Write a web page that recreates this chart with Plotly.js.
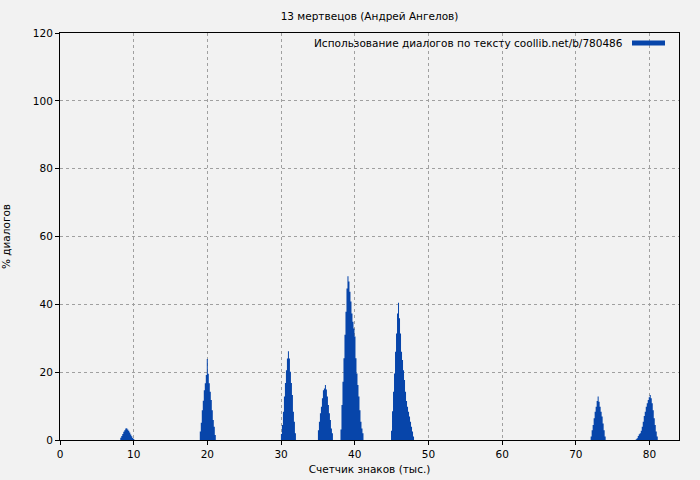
<!DOCTYPE html>
<html>
<head>
<meta charset="utf-8">
<script src="https://cdn.plot.ly/plotly-3.0.1.min.js"></script>
<style>html,body{margin:0;padding:0;background:#f2f2f2;}#chart{width:700px;height:480px;}</style>
</head>
<body>
<div id="chart"></div>
<script>
// Data: % of dialogue per text position (thousands of characters)
const STEP = 0.1358; // sampling step, thousand chars
const peakStarts = [8.18, 18.97, 29.98, 35.0, 38.06, 44.92, 72.01, 78.13];
const peak9  = [0.7, 1.2, 1.8, 2.4, 2.9, 3.4, 3.5, 3.1, 2.7, 2.2, 1.6, 1.1, 0.6, 0.3];
const peak20 = [2.5, 5.1, 8.8, 11.6, 14.7, 16.7, 19.2, 23.9, 19.5, 16.7, 14.2, 11.8, 8.8, 5.9, 3.9, 1.5];
const peak31 = [1.8, 4.4, 8.3, 12.8, 16.8, 20.6, 24.0, 26.2, 24.0, 20.1, 16.8, 13.3, 8.3, 5.4, 2.0];
const peak36 = [2.9, 5.4, 7.9, 9.8, 12.3, 14.7, 15.2, 16.2, 14.9, 12.8, 10.3, 7.9, 5.9, 3.4, 2.0];
const peak39 = [3.1, 10.3, 17.2, 24.1, 31.0, 37.8, 44.7, 48.3, 46.7, 43.7, 40.8, 37.3, 34.9, 32.9, 30.5, 24.1, 19.6, 16.2, 12.8, 8.8, 5.4, 3.4, 2.0];
const peak46 = [2.7, 8.5, 14.2, 19.6, 26.0, 31.4, 37.3, 40.5, 35.9, 31.4, 26.0, 23.6, 20.6, 17.7, 14.2, 11.5, 9.8, 8.3, 6.9, 5.4, 3.9, 2.5, 1.0];
const peak73 = [1.0, 2.9, 4.4, 6.4, 8.3, 9.8, 11.5, 12.8, 11.3, 9.8, 8.3, 6.9, 4.9, 2.9, 1.0];
const peak80 = [0.2, 0.5, 1.2, 1.7, 2.0, 2.7, 3.9, 5.4, 7.1, 8.3, 9.8, 10.8, 11.8, 12.6, 13.3, 12.3, 10.8, 8.8, 6.4, 4.4, 2.5, 1.0];
const peaks = [peak9, peak20, peak31, peak36, peak39, peak46, peak73, peak80];

const xTicks = [0, 10, 20, 30, 40, 50, 60, 70, 80];
const yTicks = [0, 20, 40, 60, 80, 100, 120];

const titleText = '13 мертвецов (Андрей Ангелов)';
const legendText = 'Использование диалогов по тексту coollib.net/b/780486';
const xTitle = 'Счетчик знаков (тыс.)';
const yTitle = '% диалогов';

const BLUE = '#0745aa';
const FONT = 'DejaVu Sans';
const FS = 10.5;

const traces = peaks.map((vals, k) => {
  const xs = vals.map((v, i) => peakStarts[k] + i * STEP);
  const ys = vals.slice();
  xs.push(peakStarts[k] + vals.length * STEP);
  ys.push(0);
  return {
    type: 'scatter', mode: 'lines', x: xs, y: ys,
    line: {shape: 'hv', width: 0, color: BLUE},
    fill: 'tozeroy', fillcolor: BLUE,
    showlegend: false, hoverinfo: 'skip'
  };
});

const axisCommon = {
  showline: true, linecolor: '#000', linewidth: 1, mirror: true,
  ticks: 'outside', ticklen: 4, tickcolor: '#000', tickwidth: 1,
  showgrid: true, gridcolor: '#a0a0a0', griddash: '3px,3px', gridwidth: 1,
  zeroline: false, tickfont: {family: FONT, size: FS, color: '#000'}
};

const layout = {
  width: 700, height: 480,
  paper_bgcolor: '#f2f2f2', plot_bgcolor: '#f2f2f2',
  margin: {l: 60, r: 21, t: 33, b: 40},
  showlegend: false,
  font: {family: FONT, size: FS, color: '#000'},
  title: {text: titleText, font: {family: FONT, size: FS, color: '#000'},
          x: 0.5, xref: 'paper', y: 1 - 16/480, yref: 'container', yanchor: 'middle'},
  xaxis: Object.assign({}, axisCommon, {
    range: [0, 84], tickvals: xTicks, ticktext: xTicks.map(String),
    title: {text: xTitle, font: {family: FONT, size: FS, color: '#000'}, standoff: 7}
  }),
  yaxis: Object.assign({}, axisCommon, {
    range: [0, 120], tickvals: yTicks, ticktext: yTicks.map(String),
    title: {text: yTitle, font: {family: FONT, size: FS, color: '#000'}, standoff: 20}
  }),
  annotations: [{
    text: legendText, xref: 'paper', yref: 'paper', x: (625 - 60) / 619, y: (440 - 43) / 407,
    xanchor: 'right', yanchor: 'middle', showarrow: false,
    font: {family: FONT, size: FS, color: '#000'}
  }],
  shapes: [{
    type: 'line', xref: 'paper', yref: 'paper',
    x0: (632 - 60) / 619, x1: (665 - 60) / 619, y0: (440 - 43) / 407, y1: (440 - 43) / 407,
    line: {color: BLUE, width: 5}
  }]
};

Plotly.newPlot('chart', traces, layout, {staticPlot: true, displayModeBar: false});
</script>
</body>
</html>
